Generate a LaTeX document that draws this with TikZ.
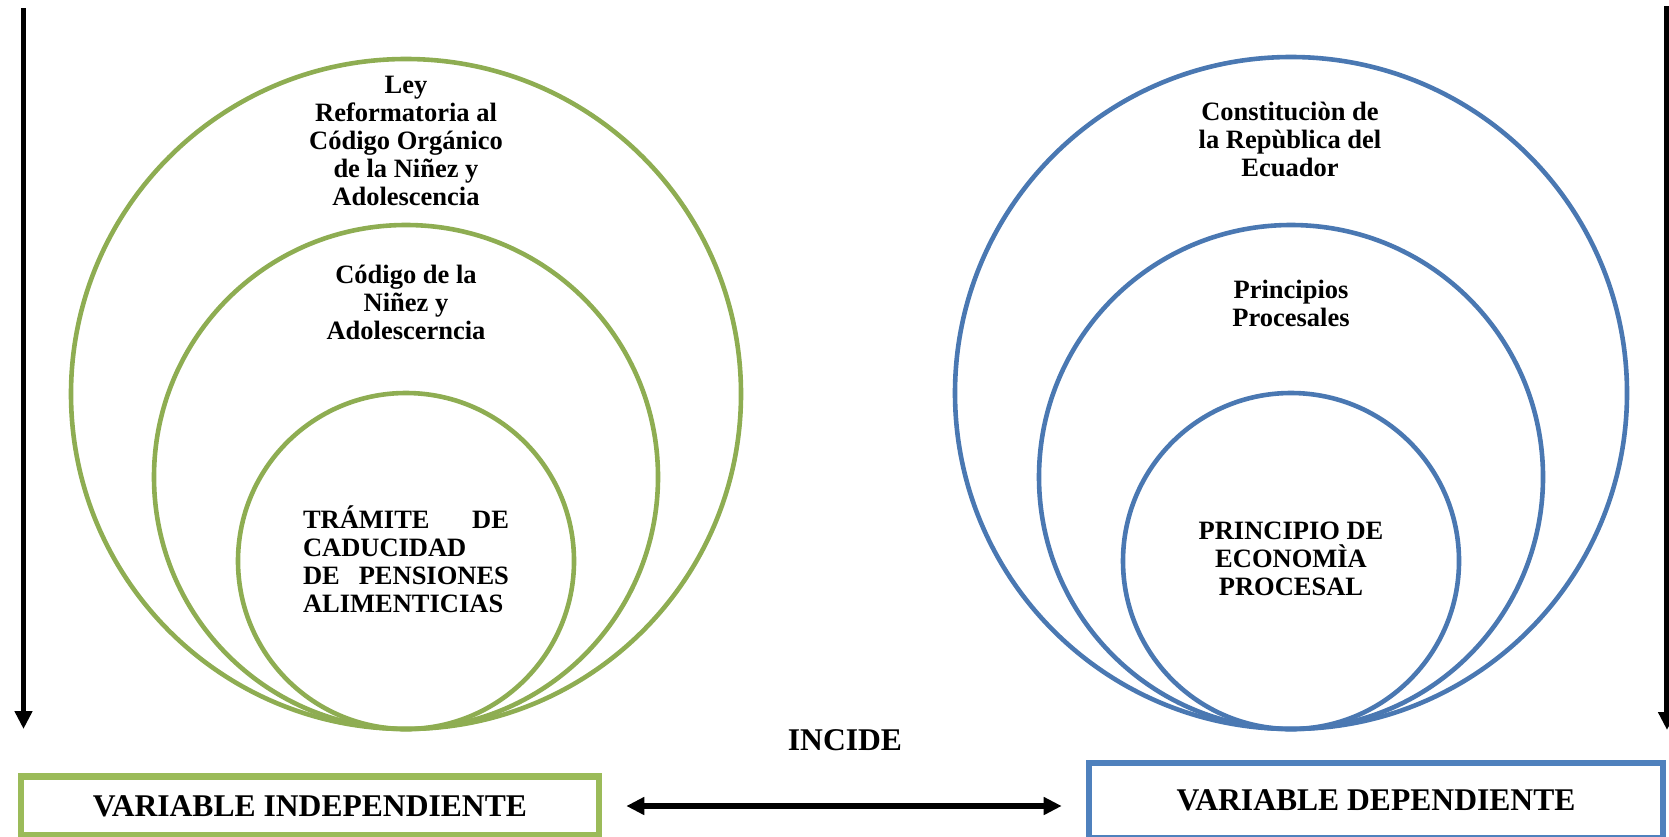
\documentclass[tikz,border=0pt]{standalone}
\usepackage{fontspec}
\setmainfont{Liberation Serif}
\usepackage{tikz}
\usetikzlibrary{arrows.meta}

\definecolor{ringgreen}{HTML}{8EAD52}
\definecolor{boxgreen}{HTML}{9BBB59}
\definecolor{ringblue}{HTML}{4A78B2}
\definecolor{boxblue}{HTML}{4F81BD}

\tikzset{
  ring/.style={circle, draw, line width=2.3pt, inner sep=0pt},
  ringL/.style={ring, draw=ringgreen},
  ringR/.style={ring, draw=ringblue},
  lawtext/.style={font=\fontsize{13.25pt}{14pt}\selectfont\bfseries,
    align=center, inner sep=0pt, anchor=base},
  vartext/.style={font=\fontsize{15.8pt}{18pt}\selectfont\bfseries,
    inner sep=0pt},
  varbox/.style={draw, line width=3.3pt, minimum width=289pt},
  thick arrow/.style={line width=2.8pt, -{Triangle[length=9pt,width=8.5pt]}}
}

\begin{document}
\begin{tikzpicture}[x=0.5pt, y=-0.5pt]
  \useasboundingbox (0,0) rectangle (1669,836);

  % left side (text nodes sit on the baseline of their last line)
  \node[ringL, minimum size=335pt] (leyC) at (406,394) {};
  \node[ringL, minimum size=252pt] (codigoC) at (406,477) {};
  \node[ringL, minimum size=168pt] (tramiteC) at (406,561) {};
  \node[lawtext] (leyT) at (406,205.5)
    {Ley\\Reformatoria al\\Código Orgánico\\de la Niñez y\\Adolescencia};
  \node[lawtext] (codigoT) at (406,339)
    {Código de la\\Niñez y\\Adolescerncia};
  \node[lawtext, text width=103pt, align=left] (tramiteT) at (406,528)
    {TRÁMITE\hfill DE\\CADUCIDAD\\DE\hfill PENSIONES\\ALIMENTICIAS};

  % right side
  \node[ringR, minimum size=336pt] (constC) at (1291,393) {};
  \node[ringR, minimum size=252pt] (princC) at (1291,477) {};
  \node[ringR, minimum size=168pt] (econC) at (1291,561) {};
  \node[lawtext] (constT) at (1290,176)
    {Constituciòn de\\la Repùblica del\\Ecuador};
  \node[lawtext] (princT) at (1291,326)
    {Principios\\Procesales};
  \node[lawtext] (econT) at (1291,595)
    {PRINCIPIO DE\\ECONOMÌA\\PROCESAL};

  % variables
  \node[varbox, draw=boxgreen, minimum height=29.75pt] (indep) at (310,806) {};
  \node[vartext] at (indep) {VARIABLE INDEPENDIENTE};
  \node[varbox, draw=boxblue, minimum width=287pt, minimum height=37.5pt]
    (dep) at (1376,800.5) {};
  \node[vartext] at (dep) {VARIABLE DEPENDIENTE};
  \node[vartext, anchor=base] (incide) at (845,750) {INCIDE};

  % arrows
  \coordinate (topL) at (23.5,8);
  \coordinate (endL) at (23.5,729);
  \coordinate (topR) at (1667,6);
  \coordinate (endR) at (1667,730);
  \draw[thick arrow] (topL) -- (endL);
  \draw[thick arrow] (topR) -- (endR);
  \draw[line width=2.8pt, {Triangle[length=9pt,width=8.5pt]}-{Triangle[length=9pt,width=8.5pt]}]
    ([xshift=12pt]indep.east) -- ([xshift=-12pt]dep.west |- indep.east);
\end{tikzpicture}
\end{document}
